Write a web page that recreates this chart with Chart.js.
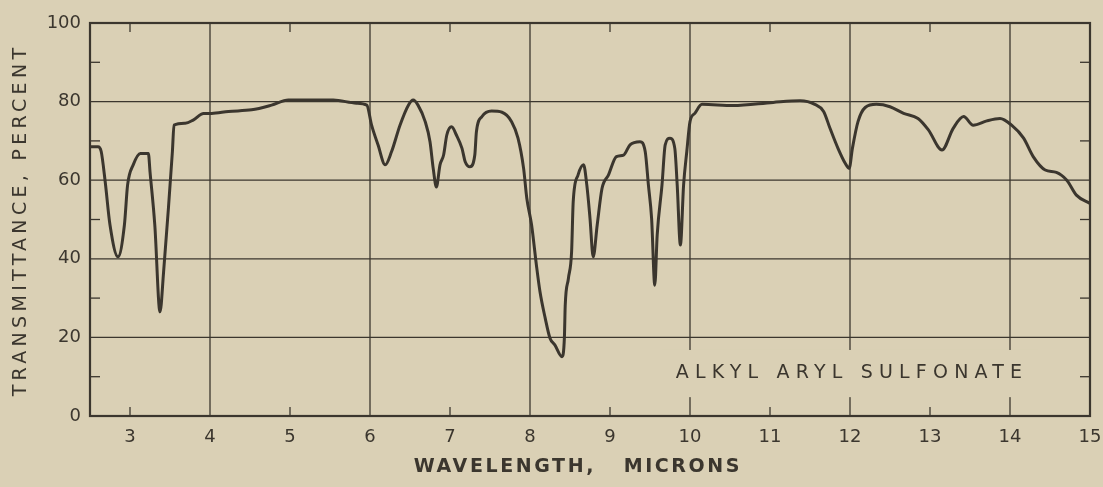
<!DOCTYPE html>
<html>
<head>
<meta charset="utf-8">
<script src="https://cdn.jsdelivr.net/npm/chart.js@4/dist/chart.umd.min.js"></script>
<style>
  html, body { margin: 0; padding: 0; background: #dad0b5; }
  #wrap { width: 1103px; height: 487px; }
</style>
</head>
<body>
<div id="wrap"><canvas id="spectrum"></canvas></div>
<script>
// wavelength (microns) and transmittance (percent)
const wavelength = [
  2.50, 2.60, 2.64, 2.69, 2.75, 2.85, 2.93, 2.97, 3.04, 3.13, 3.23, 3.25, 3.31, 3.375, 3.42, 3.48, 3.53, 3.55,
  3.69, 3.79, 3.92, 4.02, 4.23, 4.52, 4.77, 4.98, 5.12, 5.54, 5.83, 5.96, 6.02, 6.10, 6.19, 6.27, 6.375, 6.48,
  6.54, 6.60, 6.69, 6.75, 6.79, 6.83, 6.875, 6.92, 6.96, 7.02, 7.08, 7.15, 7.19, 7.25, 7.31, 7.33, 7.40, 7.52,
  7.65, 7.77, 7.85, 7.92, 7.96, 8.02, 8.08, 8.125, 8.19, 8.25, 8.31, 8.40, 8.43, 8.44, 8.48, 8.52, 8.54, 8.60,
  8.67, 8.71, 8.75, 8.79, 8.84, 8.90, 8.98, 9.08, 9.17, 9.25, 9.375, 9.44, 9.48, 9.52, 9.56, 9.59, 9.65, 9.69,
  9.75, 9.81, 9.84, 9.88, 9.92, 9.96, 10.0, 10.06, 10.15, 10.54, 11.04, 11.375, 11.56, 11.67, 11.75, 11.85,
  11.94, 11.99, 12.03, 12.10, 12.19, 12.33, 12.5, 12.67, 12.85, 12.98, 13.15, 13.29, 13.42, 13.54, 13.71,
  13.875, 14.02, 14.17, 14.29, 14.44, 14.58, 14.71, 14.83, 15.0
];
const transmittance = [
  68.5, 68.5, 67.3, 59.6, 48.6, 40.5, 48.6, 58.8, 63.9, 66.8, 66.8, 62.2, 48.6, 26.5, 36.7, 52.8, 67.3, 74.0,
  74.5, 75.3, 77.0, 77.0, 77.5, 77.9, 79.1, 80.4, 80.4, 80.4, 79.6, 79.1, 74.0, 69.0, 63.9, 67.3, 74.0, 79.1,
  80.4, 79.1, 74.9, 69.8, 63.0, 58.3, 63.9, 66.4, 71.5, 73.6, 71.5, 68.1, 64.7, 63.4, 66.4, 72.3, 76.2, 77.6,
  77.3, 74.9, 70.7, 63.0, 55.4, 48.6, 38.4, 31.6, 24.9, 19.8, 18.1, 15.1, 20.0, 28.0, 35.0, 41.8, 54.5, 61.3,
  63.9, 58.8, 50.3, 40.5, 48.6, 57.9, 61.3, 66.0, 66.4, 69.0, 69.8, 67.3, 58.8, 50.3, 33.3, 46.1, 58.8, 69.0,
  70.7, 68.1, 58.8, 43.5, 58.8, 67.3, 74.9, 77.0, 79.3, 79.0, 79.8, 80.2, 79.3, 77.5, 73.2, 68.1,
  64.3, 63.0, 68.1, 74.9, 78.5, 79.3, 78.7, 77.0, 75.7, 72.8, 67.7, 73.2, 76.2, 74.0, 75.1,
  75.7, 74.0, 70.7, 66.0, 62.6, 62.0, 60.0, 56.2, 54.1
];

const xTicks = [3, 4, 5, 6, 7, 8, 9, 10, 11, 12, 13, 14, 15];
const xGrid = [4, 6, 8, 10, 12, 14];
const xMinor = [3, 5, 7, 9, 11, 13];
const yTicks = [0, 20, 40, 60, 80, 100];
const yGrid = [20, 40, 60, 80];
const yMinor = [10, 30, 50, 70, 90];
const sampleName = 'ALKYL ARYL SULFONATE';

const ink = '#3b362e';
const paper = '#dad0b5';
const font = '"DejaVu Sans", sans-serif';

const paperGrid = {
  id: 'paperGrid',
  beforeDatasetsDraw(chart) {
    const { ctx, chartArea: a, scales: { x, y } } = chart;
    const line = (x1, y1, x2, y2) => { ctx.beginPath(); ctx.moveTo(x1, y1); ctx.lineTo(x2, y2); ctx.stroke(); };
    ctx.save();
    ctx.strokeStyle = ink;
    ctx.lineWidth = 1.3;
    xGrid.forEach(v => { const px = x.getPixelForValue(v); line(px, a.top, px, a.bottom); });
    yGrid.forEach(v => { const py = y.getPixelForValue(v); line(a.left, py, a.right, py); });
    // short inside ticks
    xMinor.forEach(v => {
      const px = x.getPixelForValue(v);
      line(px, a.bottom, px, a.bottom - 9);
      line(px, a.top, px, a.top + 9);
    });
    yMinor.forEach(v => {
      const py = y.getPixelForValue(v);
      line(a.left, py, a.left + 10, py);
      line(a.right, py, a.right - 10, py);
    });
    // label patch over the grid
    const bx1 = x.getPixelForValue(9.65), bx2 = x.getPixelForValue(14.35);
    const by1 = y.getPixelForValue(16.8), by2 = y.getPixelForValue(4.8);
    ctx.fillStyle = paper;
    ctx.fillRect(bx1, by1, bx2 - bx1, by2 - by1);
    ctx.fillStyle = ink;
    ctx.font = '19px ' + font;
    ctx.letterSpacing = '6.2px';
    ctx.textAlign = 'center';
    ctx.textBaseline = 'middle';
    ctx.fillText(sampleName, x.getPixelForValue(12.0) + 2, y.getPixelForValue(11));
    // frame
    ctx.lineWidth = 2.2;
    ctx.strokeRect(a.left, a.top, a.right - a.left, a.bottom - a.top);
    ctx.restore();
  },
  afterDraw(chart) {
    const { ctx } = chart;
    ctx.save();
    ctx.fillStyle = ink;
    ctx.textAlign = 'center';
    ctx.textBaseline = 'middle';
    ctx.font = '600 19px ' + font;
    ctx.letterSpacing = '2.6px';
    ctx.fillText('WAVELENGTH,   MICRONS', 578, 467);
    ctx.translate(21, 220);
    ctx.rotate(-Math.PI / 2);
    ctx.font = '19px ' + font;
    ctx.letterSpacing = '4.3px';
    ctx.fillText('TRANSMITTANCE, PERCENT', 0, 0);
    ctx.restore();
  }
};

const ctx = document.getElementById('spectrum').getContext('2d');
new Chart(ctx, {
  type: 'scatter',
  data: {
    datasets: [{
      data: wavelength.map((w, i) => ({ x: w, y: transmittance[i] })),
      showLine: true,
      borderColor: ink,
      borderWidth: 3,
      pointRadius: 0,
      cubicInterpolationMode: 'monotone',
      fill: false
    }]
  },
  options: {
    responsive: true,
    maintainAspectRatio: false,
    animation: false,
    layout: { padding: { left: 0, right: 13, top: 23, bottom: 0 } },
    plugins: { legend: { display: false }, tooltip: { enabled: false } },
    scales: {
      x: {
        type: 'linear',
        min: 2.5,
        max: 15,
        afterBuildTicks: s => { s.ticks = xTicks.map(v => ({ value: v })); },
        afterFit: s => { s.height = 71; s.paddingLeft = 0; s.paddingRight = 0; },
        grid: { display: false, drawTicks: false },
        border: { display: false },
        ticks: { color: ink, font: { family: font, size: 18 }, padding: 11, autoSkip: false, maxRotation: 0 }
      },
      y: {
        min: 0,
        max: 100,
        afterBuildTicks: s => { s.ticks = yTicks.map(v => ({ value: v })); },
        afterFit: s => { s.width = 90; s.paddingTop = 0; s.paddingBottom = 0; },
        grid: { display: false, drawTicks: false },
        border: { display: false },
        ticks: { color: ink, font: { family: font, size: 18 }, padding: 9 }
      }
    }
  },
  plugins: [paperGrid]
});
</script>
</body>
</html>
